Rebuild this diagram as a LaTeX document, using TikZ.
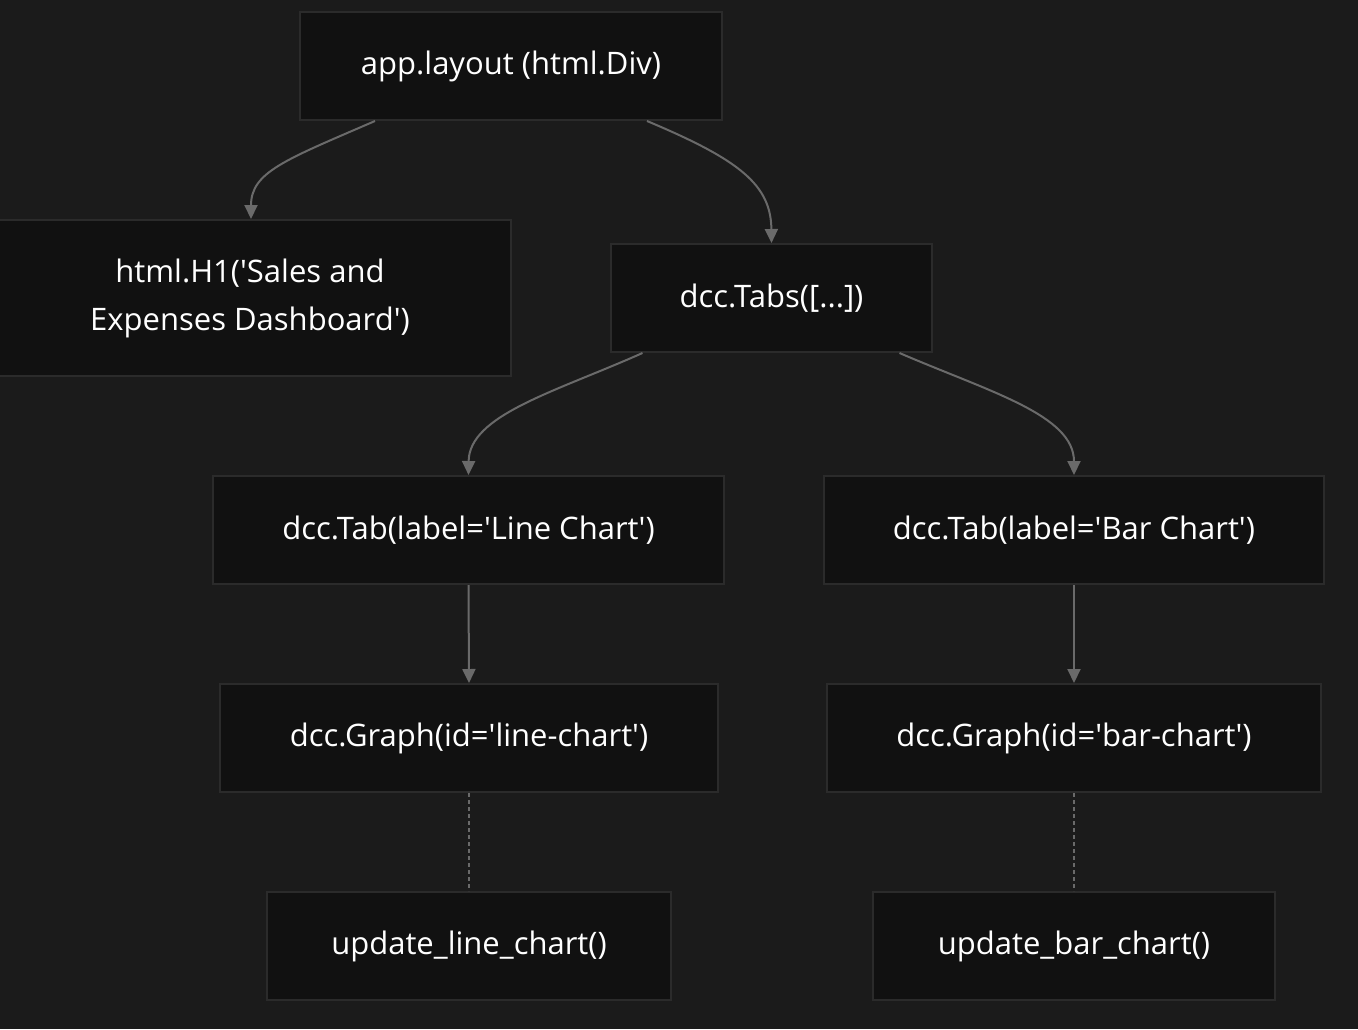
\documentclass[tikz,border=0pt]{standalone}
\usepackage{fontspec}
\setmainfont{Open Sans}
\usetikzlibrary{arrows.meta}
\definecolor{bgc}{HTML}{1B1B1B}
\definecolor{nodefill}{HTML}{111111}
\definecolor{nodeline}{HTML}{2B2B2B}
\definecolor{edgec}{HTML}{6A6A6A}
\newcommand{\q}{\textquotesingle}
\tikzset{
  box/.style={draw=nodeline, line width=2pt, fill=nodefill, text=white, inner sep=0pt, font=\fontsize{31}{48}\selectfont, align=center},
  edge/.style={draw=edgec, line width=2pt, -{Triangle[length=14pt,width=13pt]}},
  dashedge/.style={draw=edgec, line width=2pt, dash pattern=on 4pt off 3pt},
}
\begin{document}
\begin{tikzpicture}[x=1pt,y=-1pt]
\fill[bgc] (0,0) rectangle (1358,1029);
\useasboundingbox (0,0) rectangle (1358,1029);
\node[box, minimum width=422pt, minimum height=108pt] (A) at (511,66) {app.layout (html.Div)};
\node[box, minimum width=522pt, minimum height=156pt] (H) at (250,298) {html.H1(\q Sales and\\Expenses Dashboard\q)};
\node[box, minimum width=321pt, minimum height=108pt] (T) at (771.5,298) {dcc.Tabs([...])};
\node[box, minimum width=511pt, minimum height=108pt] (TL) at (468.5,530) {dcc.Tab(label=\q Line Chart\q)};
\node[box, minimum width=500pt, minimum height=108pt] (TB) at (1074,530) {dcc.Tab(label=\q Bar Chart\q)};
\node[box, minimum width=498pt, minimum height=108pt] (GL) at (469,738) {dcc.Graph(id=\q line-chart\q)};
\node[box, minimum width=494pt, minimum height=108pt] (GB) at (1074,738) {dcc.Graph(id=\q bar-chart\q)};
\node[box, minimum width=404pt, minimum height=108pt] (UL) at (469,946) {update\_line\_chart()};
\node[box, minimum width=402pt, minimum height=108pt] (UB) at (1074,946) {update\_bar\_chart()};
\coordinate (a1) at ([xshift=-136pt]A.south);
\coordinate (a2) at ([xshift=136pt]A.south);
\coordinate (t1) at ([xshift=-129pt]T.south);
\coordinate (t2) at ([xshift=128pt]T.south);
\draw[edge] (a1) .. controls (285,160) and (251,172) .. (H.north -| 251,0);
\draw[edge] (a2) .. controls (740,160) and (771,185) .. (T.north);
\draw[edge] (t1) .. controls (555,392) and (469,415) .. (TL.north);
\draw[edge] (t2) .. controls (990,392) and (1074,415) .. (TB.north);
\draw[edge] (TL.south) -- (GL.north);
\draw[edge] (TB.south) -- (GB.north);
\draw[dashedge] (GL.south) -- (UL.north);
\draw[dashedge] (GB.south) -- (UB.north);
\end{tikzpicture}
\end{document}
